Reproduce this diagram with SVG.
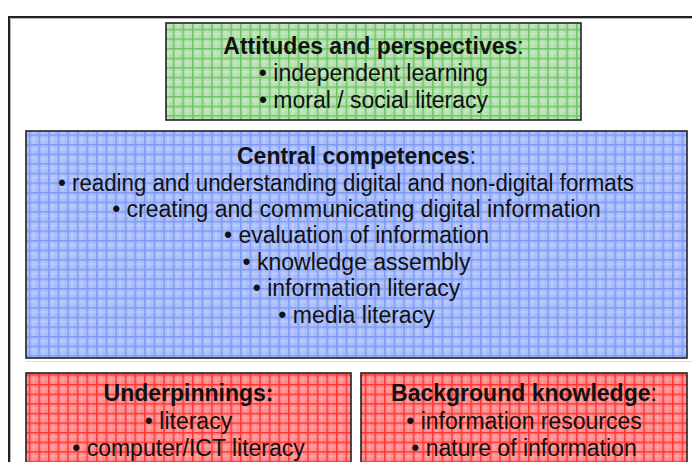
<svg xmlns="http://www.w3.org/2000/svg" width="692" height="462" viewBox="0 0 692 462">
<defs>
<pattern id="pg" width="9.6" height="9.6" patternUnits="userSpaceOnUse">
<rect width="9.6" height="9.6" fill="#b4e0ae"/>
<path d="M0 4.8H9.6M4.8 0V9.6" stroke="#cdeccb" stroke-width="1"/>
<path d="M0 0.75H9.6M0.75 0V9.6" stroke="#6ec468" stroke-width="1.5"/>
</pattern>
<pattern id="pb" width="9.6" height="9.6" patternUnits="userSpaceOnUse">
<rect width="9.6" height="9.6" fill="#a8bcfb"/>
<path d="M0 4.8H9.6M4.8 0V9.6" stroke="#c4d2fd" stroke-width="1"/>
<path d="M0 0.75H9.6M0.75 0V9.6" stroke="#7f9bf3" stroke-width="1.5"/>
</pattern>
<pattern id="pr" width="9.6" height="9.6" patternUnits="userSpaceOnUse">
<rect width="9.6" height="9.6" fill="#ff8a8a"/>
<path d="M0 4.8H9.6M4.8 0V9.6" stroke="#ffacac" stroke-width="1"/>
<path d="M0 0.75H9.6M0.75 0V9.6" stroke="#ff3535" stroke-width="1.5"/>
</pattern>
</defs>
<style>
.box{stroke:#222;stroke-width:1.6}
text{font-family:"Liberation Sans",Arial,sans-serif;font-size:23px;fill:#111;text-anchor:middle}
.h{font-weight:bold}
.n{font-weight:normal}
</style>
<g id="frame">
<path d="M9 462V17H692" fill="none" stroke="#222" stroke-width="2"/>
<path d="M10.5 462V18.5H692" fill="none" stroke="#bbb" stroke-width="1"/>
<path d="M26 361.5H692" stroke="#ddd" stroke-width="1"/>
</g>
<g id="attitudes">
<rect class="box" x="166" y="23" width="415" height="97" fill="url(#pg)"/>
<text x="373.5" y="54"><tspan class="h">Attitudes and perspectives</tspan><tspan class="n">:</tspan></text>
<text x="373.5" y="81">• independent learning</text>
<text x="373.5" y="108">• moral / social literacy</text>
</g>
<g id="central">
<rect class="box" x="26" y="131" width="661" height="227" fill="url(#pb)"/>
<text x="356.5" y="164"><tspan class="h">Central competences</tspan><tspan class="n">:</tspan></text>
<text x="346" y="191" textLength="576" lengthAdjust="spacingAndGlyphs">• reading and understanding digital and non-digital formats</text>
<text x="356.5" y="217">• creating and communicating digital information</text>
<text x="356.5" y="243">• evaluation of information</text>
<text x="356.5" y="270">• knowledge assembly</text>
<text x="356.5" y="296">• information literacy</text>
<text x="356.5" y="323">• media literacy</text>
</g>
<g id="underpinnings">
<rect class="box" x="26" y="373" width="325" height="100" fill="url(#pr)"/>
<text x="188.5" y="401" class="h">Underpinnings:</text>
<text x="188.5" y="429">• literacy</text>
<text x="188.5" y="456">• computer/ICT literacy</text>
</g>
<g id="background">
<rect class="box" x="361" y="373" width="326" height="100" fill="url(#pr)"/>
<text x="524" y="401"><tspan class="h">Background knowledge</tspan><tspan class="n">:</tspan></text>
<text x="524" y="429">• information resources</text>
<text x="524" y="456">• nature of information</text>
</g>
<g id="connectors"/>
</svg>
